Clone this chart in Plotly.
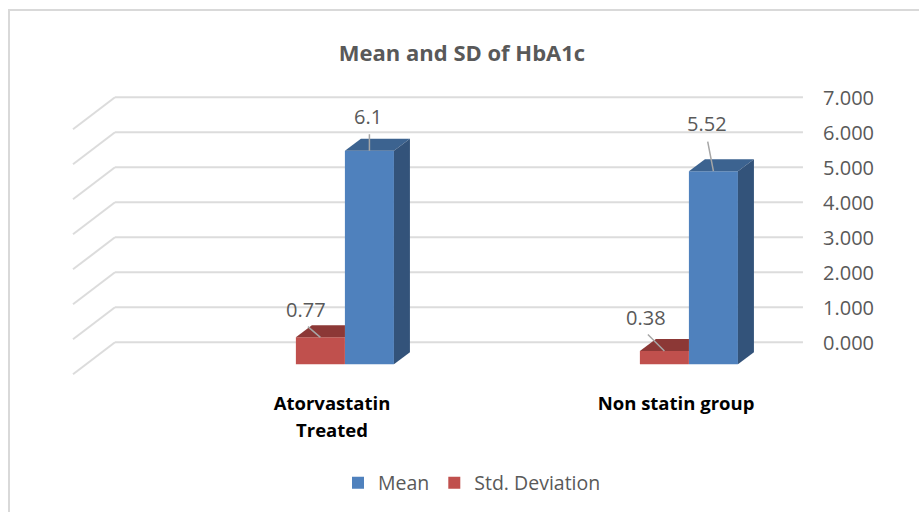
#--------------------- Packages
import plotly.graph_objects as go

#--------------------- Data
categories = ['Atorvastatin<br>Treated', 'Non statin group']
mean_values = [6.1, 5.52]
sd_values = [0.77, 0.38]
y_ticks = [0, 1, 2, 3, 4, 5, 6, 7]

#--------------------- Fake 3D geometry, in axis units
x_pos = list(range(len(categories)))
bar_width = 0.1425
bar_gap_left = -0.105          # left edge of the red bar from the category centre
floor = -0.629                 # front of the bars sits below the zero line
depth_x = 16 / 344
depth_y = 12 / 35
wall_left = -0.6308            # back corner of the wall
wall_right = 1.369
wall_dx = -42 / 344
wall_dy = -32 / 35

blue = '#4F81BD'
blue_top = '#3C6390'
blue_side = '#33537A'
red = '#C0504D'
red_top = '#8C3836'
grid = '#DCDCDC'
grey_text = '#595959'
font_name = 'Open Sans'


def poly_trace(xs, ys, color):
    "Filled polygon for the faces a plain bar does not have."
    return go.Scatter(x = xs + xs[:1], y = ys + ys[:1], mode = 'lines', fill = 'toself',
                      fillcolor = color, line = dict(width = 0), showlegend = False,
                      hoverinfo = 'skip')


fig = go.Figure()

# front faces
fig.add_trace(go.Bar(name = 'Mean', x = x_pos, y = mean_values, base = floor,
                     offset = bar_gap_left + bar_width, width = bar_width,
                     marker = dict(color = blue, line = dict(width = 0)),
                     customdata = mean_values, hovertemplate = '%{customdata}<extra>Mean</extra>'))
fig.add_trace(go.Bar(name = 'Std. Deviation', x = x_pos, y = sd_values, base = floor,
                     offset = bar_gap_left, width = bar_width,
                     marker = dict(color = red, line = dict(width = 0)),
                     customdata = sd_values, hovertemplate = '%{customdata}<extra>Std. Deviation</extra>'))

# top and side faces
for x, v, s in zip(x_pos, mean_values, sd_values):
    x0 = x + bar_gap_left + bar_width
    x1 = x0 + bar_width
    top = floor + v
    fig.add_trace(poly_trace([x0, x0 + depth_x, x1 + depth_x, x1],
                             [top, top + depth_y, top + depth_y, top], blue_top))
    fig.add_trace(poly_trace([x1, x1 + depth_x, x1 + depth_x, x1],
                             [floor, floor + depth_y, top + depth_y, top], blue_side))
    # the red top stops where the blue bar starts
    r0 = x + bar_gap_left
    r_top = floor + s
    fig.add_trace(poly_trace([r0, r0 + depth_x, x0, x0],
                             [r_top, r_top + depth_y, r_top + depth_y, r_top], red_top))

# gridlines on the back wall and the side wall
for t in y_ticks:
    fig.add_shape(type = 'line', layer = 'below', xref = 'x', yref = 'y',
                  x0 = wall_left, x1 = wall_right, y0 = t, y1 = t,
                  line = dict(color = grid, width = 2))
    fig.add_shape(type = 'line', layer = 'below', xref = 'x', yref = 'y',
                  x0 = wall_left, x1 = wall_left + wall_dx, y0 = t, y1 = t + wall_dy,
                  line = dict(color = grid, width = 2))

# data labels and leader lines, as separate annotations so the text box does not cut the line
label_offsets = [(-1, -34), (-14, -28), (-6, -48), (-18, -34)]
leader_offsets = [(0, -18), (-14, -12), (-6, -31), (-18, -18)]
label_points = [(x_pos[0], mean_values[0], 1), (x_pos[0], sd_values[0], 0),
                (x_pos[1], mean_values[1], 1), (x_pos[1], sd_values[1], 0)]
for (x, v, is_mean), (tx, ty), (ax, ay) in zip(label_points, label_offsets, leader_offsets):
    px = x + bar_gap_left + bar_width * (0.5 + is_mean)
    fig.add_annotation(x = px, y = floor + v, text = '', showarrow = True, arrowhead = 0,
                       arrowwidth = 1.5, arrowcolor = '#A6A6A6', ax = ax, ay = ay, standoff = 0)
    fig.add_annotation(x = px, y = floor + v, text = str(v), showarrow = False,
                       xshift = tx, yshift = -ty,
                       font = dict(family = font_name, size = 20, color = grey_text))

# chart frame, runs off the right and bottom of the picture
fig.add_shape(type = 'rect', xref = 'paper', yref = 'paper', layer = 'below',
              x0 = (9 - 60) / 750, x1 = (935 - 60) / 750,
              y0 = (380 - 530) / 290, y1 = (380 - 10) / 290,
              line = dict(color = '#D9D9D9', width = 2))

# bigger tick font with smaller spans, only to get the wider line spacing
tick_text = ['<span style="font-size:18.5px"><b>' + c.replace('<br>', '</b></span><br><span style="font-size:18.5px"><b>') + '</b></span>'
             for c in categories]
fig.update_xaxes(range = [-0.7907, 1.3895], tickmode = 'array', tickvals = x_pos,
                 ticktext = tick_text,
                 showgrid = False, zeroline = False, showline = False, ticks = '',
                 ticklabelstandoff = 8,
                 tickfont = dict(family = font_name, size = 21, color = '#000000'))
fig.update_yaxes(range = [-1.077, 7.209], side = 'right', tickmode = 'array', tickvals = y_ticks,
                 tickformat = '.3f', showgrid = False, zeroline = False, showline = False,
                 ticks = '', ticklabelstandoff = 12, ticklabelshift = 1,
                 tickfont = dict(family = font_name, size = 20, color = grey_text))
fig.update_layout(width = 919, height = 512, barmode = 'overlay',
                  margin = dict(l = 60, r = 109, t = 90, b = 132, autoexpand = False),
                  plot_bgcolor = 'white', paper_bgcolor = 'white',
                  title = dict(text = '<b>Mean and SD of HbA1c</b>', xref = 'paper',
                               x = (462 - 60) / 750, xanchor = 'center',
                               yref = 'container', y = 1 - 53 / 512, yanchor = 'middle',
                               font = dict(family = font_name, size = 22, color = grey_text)),
                  legend = dict(orientation = 'h', xref = 'paper', yref = 'paper',
                                x = (472 - 60) / 750, xanchor = 'center',
                                y = (380 - 483) / 290, yanchor = 'middle',
                                font = dict(family = font_name, size = 19.5, color = grey_text)))

fig.write_html("out.html", config = dict(displayModeBar = False),
               post_script = "document.body.style.margin = '0';")
